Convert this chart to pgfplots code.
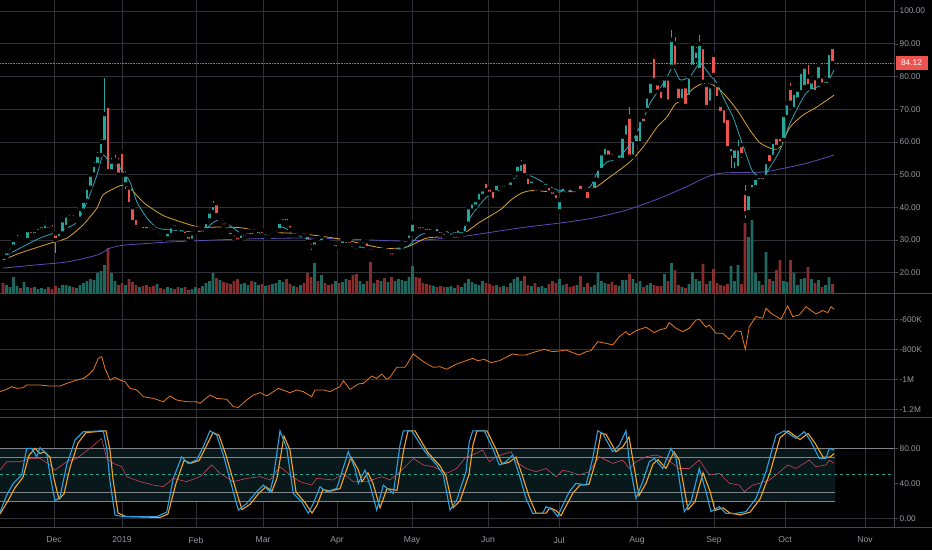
\documentclass[border=0pt]{standalone}
\usepackage{pgfplots}
\pgfplotsset{compat=1.18}
\usepackage{pgfplotstable}
\usepackage{fontspec}
\setmainfont{Liberation Sans}
\definecolor{upc}{RGB}{38,166,154}
\definecolor{dnc}{RGB}{239,83,80}
\definecolor{vup}{RGB}{30,104,96}
\definecolor{vdn}{RGB}{135,45,45}
\definecolor{grd}{RGB}{48,50,56}
\definecolor{sep}{RGB}{70,72,78}
\definecolor{lbl}{RGB}{150,153,160}
\definecolor{mafast}{RGB}{45,165,185}
\definecolor{mamid}{RGB}{215,165,50}
\definecolor{maslow}{RGB}{92,75,180}
\definecolor{obv}{RGB}{230,120,35}
\definecolor{kline}{RGB}{45,160,225}
\definecolor{dline}{RGB}{245,165,35}
\definecolor{rsi}{RGB}{200,70,95}
\definecolor{midl}{RGB}{40,160,140}
\definecolor{bandc}{RGB}{9,24,26}
\definecolor{bandl}{RGB}{130,132,138}

\pgfplotstableread{
i o h l c v
0 25.5 26 24.3 24.8 10
1 24.8 27 24.5 26.5 8
2 26.5 28.5 26 28 6
3 28 30.5 27.5 30 16
4 29.5 31.5 29 30.5 7
5 30.5 31 29.2 29.8 5
6 29.8 31.5 29.5 31 11
7 30 33.5 29.8 33 6
8 33 33.5 31 31.5 5
9 31.5 33.8 31 33 6
10 32.5 34.5 32 34 4
11 33 35 32.8 34.5 5
12 33 35.8 32.5 35 4
13 34.5 35 32.8 33.2 6
14 33.5 34.5 32.5 32.8 4
15 32 32.5 26 30 7
16 30.5 33 30 32.5 5
17 32 36.5 31.8 36 8
18 34 38 33.5 37.5 8
19 35.5 37.5 35 36.8 7
20 36.8 37.5 35.3 35.8 6
21 35.8 37.5 35.5 37 5
22 36.5 40 36 39.5 8
23 39 42.5 38.5 42 10
24 42 46.5 41.5 46 12
25 46 50.5 45.5 50 14
26 50 54 49.5 53 13
27 53 57 52.5 56 20
28 56 61 55.5 60 22
29 60 79.5 59.5 68.5 28
30 71 71.5 50.5 51 45
31 51 55 50.5 54 20
32 53.5 56 52.5 54.5 12
33 54 55 49.5 50 8
34 57 57.5 49.5 50 10
35 47 51 45.5 50 8
36 46 46.5 40.5 41 14
37 40 40.5 35 35.5 11
38 36.7 37 33.5 34 8
39 33.8 35 33.5 34.5 6
40 34.6 35 32.5 33 7
41 34.6 35 32.8 33 8
42 34.5 35 33 33.2 6
43 33.8 34.5 32.3 32.5 7
44 32.2 33.5 31.8 33 9
45 32.5 33 31 31.2 5
46 31.5 32 30 30.3 4
47 30.5 33 30 32.5 6
48 31.5 34.8 31.2 34.2 5
49 35 35.5 33.2 33.6 4
50 33.5 34 31.8 32.2 6
51 32 34 31.8 33.6 5
52 33.2 33.6 31.2 31.5 6
53 31.5 32 29.3 29.8 3
54 29.8 32.5 29.5 32 4
55 32.5 34 32 33.5 6
56 33.5 34 31.5 31.8 5
57 32 34 31.8 33.5 7
58 33 36 32.8 35.5 10
59 36 39.5 35.8 38.7 12
60 38.5 41.8 38 40.7 20
61 41.2 41.5 37.2 37.6 15
62 35.5 37 35 36.5 13
63 35.6 36 33.8 34.2 11
64 34.5 35 32.5 33 10
65 32.8 33.2 30.8 31.2 9
66 32 32.3 30 30.5 12
67 31.2 31.5 29.3 29.6 14
68 30 32.5 29.6 32 9
69 30.8 32.5 30.5 32.2 10
70 31.3 33.2 31 32.7 8
71 32.7 33 30.8 31.2 12
72 31.5 33 31.2 32.5 11
73 31.5 33.4 31.2 33 8
74 33 33.3 31 31.5 9
75 31 32.7 30.6 32.3 7
76 32 32.3 30.3 30.7 8
77 31.5 33 31.2 32.5 9
78 32 33.7 31.8 33.3 10
79 33 36 32.7 35.5 13
80 35.5 37.6 35.2 37 11
81 37 37.3 35 35.5 14
82 35 35.3 32.9 33.2 9
83 32.6 34 32.2 33.6 7
84 32.8 33.2 31.2 31.5 6
85 32 33.4 31.6 33 8
86 32.6 33 30.8 31.2 10
87 31.5 31.8 29 29.5 20
88 29.5 30 27 28 16
89 28 30.2 27.7 29.9 30
90 30.5 30.8 28.8 29.2 12
91 29.3 31.4 29 31 18
92 30 30.3 28.7 29 10
93 29.5 29.8 28 28.5 8
94 28.8 29.2 27.5 27.8 9
95 27.5 29.3 27.2 29 12
96 28.7 29 27.3 27.6 10
97 28.5 30.6 28.2 30.2 11
98 28.5 30.5 28.2 30 14
99 30 30.3 28.3 28.6 13
100 28.6 29 26.8 27.2 18
101 28 28.3 26.3 26.8 19
102 27 29 26.7 28.7 12
103 28.5 30.3 28.2 29.8 9
104 29.6 29.9 27.2 27.5 12
105 26.5 26.8 25 25.5 31
106 25.6 26.9 25.3 26.5 10
107 26.8 27.2 25.6 26 13
108 25.9 27.2 25.6 26.9 12
109 27.2 27.6 25.6 26 15
110 25.8 27 25.5 26.7 11
111 26.5 26.8 24.5 25 16
112 25.3 27 25 26.6 12
113 26.5 28.6 26.2 28.3 14
114 28 29.7 27.8 29.3 13
115 28.8 30.5 28.5 30.2 12
116 30 32.5 29.8 32 16
117 32 35.8 31.8 35.3 27
118 35 35.4 33.3 33.6 16
119 34.5 34.8 32.7 33 15
120 34.5 34.8 32.6 33 10
121 34 34.3 32.2 32.5 9
122 34 34.2 32.1 32.5 8
123 32.8 34.2 32.5 33.8 7
124 34 34.3 31.7 32 6
125 33 33.3 31.2 31.6 7
126 32.5 32.8 30.6 31 6
127 30.6 31.8 30 31.5 6
128 31 33 30.7 32.6 7
129 31.6 33.5 31.3 33 5
130 33.5 33.8 31.2 31.6 8
131 31.5 33.5 31.2 33 6
132 32 35.3 31.8 35 10
133 35 40.5 34.8 40 14
134 39 42 38.8 41.5 11
135 40.2 42.7 40 42.2 9
136 41.7 45.3 41.3 44.8 8
137 43.5 46 43.2 45.5 12
138 47.8 48.5 45 45.3 10
139 46 46.5 43.8 44.2 9
140 45.3 45.6 41.8 42.2 7
141 44.6 47.6 44.3 47.2 8
142 47.2 47.6 45.5 45.8 6
143 45.8 47.6 45.5 47.2 7
144 47.2 47.6 45.9 46.2 6
145 46.2 48.6 45.9 48.2 10
146 48 50 47.8 49.5 14
147 50.4 53.5 50 53 16
148 50.5 54.5 50.2 53.5 12
149 53.8 54.2 49.4 49.8 17
150 49.4 49.8 46 46.5 8
151 46.8 49 46.5 48.5 7
152 46 46.3 44 44.5 10
153 44.8 46.4 44.5 46 6
154 46 47.4 45.7 47 7
155 46.3 48.2 46 47.8 5
156 46.5 46.8 44 44.5 9
157 45.2 45.5 43 43.5 12
158 44.3 44.6 41.8 42.2 10
159 38.8 42.6 38.3 42.2 14
160 44.2 46.7 43.8 46.3 8
161 46.3 46.7 45 45.3 9
162 46 46.3 43.6 44 6
163 45.5 45.8 43.6 44 7
164 44.3 45.7 44 45.3 8
165 47.2 47.8 44.6 45 17
166 44.3 45.7 44 45.3 6
167 45.3 45.6 41.8 42.2 10
168 44.3 45.7 44 45.3 6
169 45.3 48.8 45 48.4 8
170 48.4 52.3 48 51.9 21
171 51.4 57 51 56.5 12
172 55.5 59 55 58.5 10
173 58 58.4 55 55.5 9
174 57 57.4 55 55.5 11
175 55.5 56 54 54.5 8
176 54.5 57 54 56.5 7
177 54.5 62 54 61.6 13
178 61.6 66.2 61.2 65.7 13
179 67.7 70.8 55 55.5 19
180 55.5 61 55 60.6 14
181 59.6 63 59.2 62.6 10
182 59.6 67.2 59.2 66.7 12
183 67.7 68 65.3 65.7 6
184 69.8 74.4 69.4 73.9 8
185 74.3 79 74 78.4 10
186 86.1 87 78.5 78.9 8
187 77.9 78.3 75 75.4 7
188 75.9 76.3 72.3 72.8 7
189 76 79.8 75.6 79.4 19
190 79.4 80 71.8 72.3 12
191 83 94.2 82.5 91.2 30
192 90.1 92 82.5 83 23
193 76.9 77.5 72.3 72.8 8
194 72.8 77.5 72.3 76.9 6
195 77 77.5 70.5 71 5
196 73.8 80.5 73.4 80 9
197 83 90.5 82.5 90 21
198 85 89 84 88 14
199 82 92.7 81.5 90 12
200 89 89.5 78 78.4 29
201 77.4 77.8 70.3 70.7 9
202 72 77.5 71.5 77 12
203 86.6 87.2 80 80.5 24
204 77.4 77.8 73 73.4 10
205 71.3 71.7 68.4 68.8 8
206 70.3 70.7 64.8 65.2 7
207 67.3 67.7 57.6 58.1 9
208 56.5 59 52 58.5 27
209 54.5 58.5 52 58 12
210 52 60.5 51.5 58 28
211 59 59.5 55 56 9
212 44.4 46.8 36.7 38.2 70
213 38.5 44.5 38 44 56
214 45.5 48 45 47.5 73
215 46.2 49.5 45.8 49 20
216 48 50 47.6 49.5 12
217 49.5 49.9 47.6 48 8
218 49.3 54.2 49 53.8 41
219 56.6 57 53 53.5 14
220 55.4 60.5 55 60 12
221 61.5 62 58 58.5 23
222 61.5 62 59 59.5 33
223 60.6 68.6 60.2 68.2 12
224 67.6 72.2 67.2 71.8 11
225 76.5 78 71.5 72 33
226 70 75.5 69.5 75 20
227 73 76.5 72.6 76 8
228 75.2 81.8 74.8 81.4 14
229 76.8 83.4 76.4 83 15
230 80 83.5 76.6 77 26
231 75.5 79 75 78.5 14
232 79.5 80 74.8 75.2 10
233 78.9 84 78.5 83.5 13
234 80 80.5 77 77.5 6
235 77.5 79.5 77 79 8
236 78.9 87.6 78.5 87.2 16
237 89 89.5 84 84.12 9
}\candles

\pgfplotsset{
  panel/.style={scale only axis, width=894pt, xmin=0, xmax=894, anchor=south west,
    axis line style={draw=none},
    xtick={54,122,196,263,337,412,488,559,637,714,785,865},
    xticklabels={}, xmajorgrids, ymajorgrids,
    grid style={grd, line width=0.7pt},
    tick align=outside, major tick length=3.5pt,
    xtick style={draw=none}, ytick style={draw=sep, line width=0.6pt},
    ytick pos=right, yticklabel pos=right,
    tick label style={font=\fontsize{8.3}{10}\selectfont, text=lbl, inner sep=2pt}},
  over/.style={scale only axis, width=894pt, xmin=0, xmax=894, anchor=south west, hide axis},
  upf/.style={restrict expr to domain={\thisrow{c}-\thisrow{o}}{0:1000}},
  dnf/.style={restrict expr to domain={\thisrow{c}-\thisrow{o}}{-1000:-0.00001}},
}

\begin{document}
\begin{tikzpicture}
\useasboundingbox (0,0) rectangle (932pt,550pt);
\fill[black] (0,0) rectangle (932pt,550pt);

% ---------- panel 1: grid and labels
\begin{axis}[panel, at={(0pt,257pt)}, height=293pt, ymin=13.79, ymax=103.4,
  ytick={20,30,40,50,60,70,80,90,100},
  yticklabels={20.00,30.00,40.00,50.00,60.00,70.00,80.00,90.00,100.00}]
\addplot[draw=none] coordinates {(0,50) (894,50)};
\end{axis}

% ---------- panel 1: volume
\begin{axis}[over, at={(0pt,257pt)}, height=293pt, ymin=0, ymax=293]
\addplot[ybar, bar width=2.9pt, bar shift=0pt, fill=vup, draw=none, upf]
  table[x expr=3+3.5*\thisrow{i}, y=v] {\candles};
\addplot[ybar, bar width=2.9pt, bar shift=0pt, fill=vdn, draw=none, dnf]
  table[x expr=3+3.5*\thisrow{i}, y=v] {\candles};
\end{axis}

% ---------- panel 1: candles and averages
\begin{axis}[over, at={(0pt,257pt)}, height=293pt, ymin=13.79, ymax=103.4]
\addplot[maslow, line width=0.8pt, smooth, tension=0.4] coordinates {
(3,21.4) (33,22.3) (67,23.3) (97,25.4) (110,27.5) (123,28.4) (150,29) (170,29.4)
(232,30.2) (298,30.6) (345,30.3) (407,29.7) (460,31) (520,33.7) (560,35.2) (593,36.7)
(627,39.2) (660,42.8) (690,46.8) (707,49.3) (723,50.5) (763,50.8) (780,51.7) (807,53.5) (834,56)};
\addplot[mamid, line width=0.8pt, smooth, tension=0.4] coordinates {
(3,23.9) (20,26) (50,29) (67,30.6) (83,34.6) (97,39.8) (103,43.8) (117,46.2) (123,46.8)
(130,45.9) (143,41.6) (157,38.6) (167,37) (198,34) (222,34) (242,33.7) (265,32.4) (298,32)
(325,31) (345,30) (383,27.5) (407,27.9) (427,30.6) (460,31.5) (480,35.5) (500,39.2)
(512,42.5) (522,44.4) (532,45.1) (557,44.7) (590,45.3) (610,49.3) (630,53.9) (643,58.4)
(657,64.5) (667,67.6) (675,71.5) (683,73) (692,76) (702,77.8) (713,77.4) (723,75)
(737,69.8) (750,63.6) (760,59.7) (773,57.8) (780,58.4) (790,64.5) (803,68.2) (817,70.7) (834,74.3)};
\addplot[only marks, mark=none, upf, error bars/.cd, y dir=both, y explicit, error mark=none,
  error bar style={upc, line width=0.9pt}]
  table[x expr=3+3.5*\thisrow{i}, y=c, y error plus expr=\thisrow{h}-\thisrow{c},
        y error minus expr=\thisrow{c}-\thisrow{l}] {\candles};
\addplot[only marks, mark=none, dnf, error bars/.cd, y dir=both, y explicit, error mark=none,
  error bar style={dnc, line width=0.9pt}]
  table[x expr=3+3.5*\thisrow{i}, y=c, y error plus expr=\thisrow{h}-\thisrow{c},
        y error minus expr=\thisrow{c}-\thisrow{l}] {\candles};
\addplot[only marks, mark=none, upf, error bars/.cd, y dir=both, y explicit, error mark=none,
  error bar style={upc, line width=2.8pt}]
  table[x expr=3+3.5*\thisrow{i}, y=o,
        y error plus expr={max(\thisrow{c}-\thisrow{o},0.3)},
        y error minus expr=0] {\candles};
\addplot[only marks, mark=none, dnf, error bars/.cd, y dir=both, y explicit, error mark=none,
  error bar style={dnc, line width=2.8pt}]
  table[x expr=3+3.5*\thisrow{i}, y=o,
        y error plus expr=0,
        y error minus expr={\thisrow{o}-\thisrow{c}}] {\candles};
\addplot[mafast, line width=0.8pt, smooth, tension=0.4] coordinates {
(3,24.8) (20,27.5) (40,30.6) (53,32) (67,33.7) (77,35.5) (87,41.6) (97,49.9) (103,56)
(110,53.6) (117,53.2) (123,50.8) (130,47.8) (137,41.6) (147,36.7) (157,33.7) (167,33.2)
(180,32.8) (198,32.4) (205,33) (212,35.1) (220,36.1) (232,34) (242,32) (262,32) (275,32.4)
(282,34) (292,32.4) (305,30.6) (322,29.4) (338,28.5) (360,27.9) (383,26.3) (407,27.9)
(420,31.5) (440,33) (453,32) (463,33) (473,38.2) (487,43.2) (500,45.3) (513,48.3) (520,50.5)
(533,49.3) (543,47.7) (557,45.3) (577,45.3) (590,46.2) (597,50.5) (607,53.9) (617,54.5)
(623,56.6) (633,60.6) (643,66.7) (650,71.8) (660,76.4) (667,79.8) (673,82.9) (680,79)
(690,80) (700,84) (710,80.4) (717,78) (723,73.7) (733,67.6) (740,61.5) (747,55.4)
(753,50.8) (763,49.3) (770,52.3) (780,57.5) (790,65.7) (800,71.8) (807,75.2) (817,76.8)
(827,78) (834,82)};
\addplot[dnc, densely dotted, line width=0.6pt] coordinates {(0,84.12) (894,84.12)};
\end{axis}

% ---------- panel 2
\begin{axis}[panel, at={(0pt,133pt)}, height=124pt, ymin=-1251, ymax=-425,
  ytick={-1200,-1000,-800,-600}, yticklabels={-1.2M,-1M,-800K,-600K}]
\addplot[obv, line width=0.8pt] coordinates {
(0,-1082) (6.7,-1067) (11.7,-1049) (16.7,-1060) (23.3,-1056) (26.7,-1038) (40,-1038)
(50,-1045) (60,-1045) (66.7,-1027) (76.7,-1005) (83.3,-994) (88.3,-971) (93.3,-938)
(98.3,-860) (101.7,-849) (105,-927) (110,-1005) (115,-987) (120,-1005) (125,-1016)
(130,-1060) (136.7,-1071) (143.3,-1116) (153.3,-1127) (163.3,-1149) (170,-1111)
(176.7,-1138) (186.7,-1149) (196.7,-1149) (200,-1160) (210,-1105) (216.7,-1127)
(226.7,-1133) (233.3,-1182) (238.3,-1187) (246.7,-1138) (253.3,-1105) (260,-1089)
(266.7,-1111) (278.3,-1060) (290,-1089) (296.7,-1071) (303.3,-1082) (311.7,-1116)
(315,-1071) (323.3,-1071) (330,-1082) (340,-1049) (343.3,-1009) (350,-1067) (358.3,-1031)
(363.3,-1027) (371.7,-978) (376.7,-994) (381.7,-965) (386.7,-1000) (390,-987) (396.7,-920)
(405,-920) (413.3,-831) (423.3,-882) (433.3,-920) (440,-916) (446.7,-933) (456.7,-898)
(466,-876) (472.7,-860) (477.7,-876) (484.3,-867) (491,-889) (499.3,-876) (512.7,-831)
(519.3,-838) (526,-838) (532.7,-822) (544.3,-800) (552.7,-816) (559.3,-811) (566,-805)
(572.7,-822) (579.3,-838) (586,-816) (591,-809) (597.7,-749) (606,-760) (612.7,-771)
(619.3,-716) (626,-682) (629.3,-705) (636,-676) (646,-653) (654.3,-689) (659.3,-671)
(666,-660) (669.3,-622) (676,-660) (682.7,-682) (689.3,-660) (696,-605) (699.3,-600)
(706,-653) (709.3,-638) (716,-693) (722.7,-693) (729.3,-733) (736,-676) (741,-682)
(745.3,-800) (749.3,-649) (756,-582) (762.7,-593) (766,-527) (771,-560) (781,-600)
(787.7,-511) (792.7,-582) (799.3,-571) (806,-516) (816,-565) (822.7,-542) (827.7,-556)
(831,-516) (834.3,-534)};
\end{axis}

% ---------- panel 3
\begin{axis}[panel, at={(0pt,22.3pt)}, height=110.7pt, ymin=-10.7, ymax=115.8,
  ymajorgrids=false,
  ytick={0,40,80}, yticklabels={0.00,40.00,80.00},
  xticklabels={Dec,2019,Feb,Mar,Apr,May,Jun,Jul,Aug,Sep,Oct,Nov},
  xticklabel style={yshift=-3.5pt, font=\fontsize{8.6}{10}\selectfont}]
\addplot[fill=bandc, draw=none] coordinates {(0,20) (835,20) (835,80) (0,80) (0,20)};
\addplot[grd, line width=0.7pt] coordinates {(0,0) (894,0)};
\addplot[bandl, line width=0.6pt] coordinates {(0,80) (894,80)};
\addplot[bandl, line width=0.6pt] coordinates {(0,70) (835,70)};
\addplot[bandl, line width=0.6pt] coordinates {(0,30) (835,30)};
\addplot[bandl, line width=0.6pt] coordinates {(0,20) (835,20)};
\addplot[midl, dashed, line width=0.7pt] coordinates {(0,50) (894,50)};
\addplot[rsi, line width=0.6pt] coordinates {
(0,55.2) (6.7,64.7) (20,64.7) (30,68.5) (40,68.5) (50,61) (55,55) (66.7,64.7) (76.7,68.5)
(90,80) (101.7,91.4) (106.7,68.5) (113.3,62.8) (121.7,59) (126.7,47.6) (140,41.9)
(153.3,38) (163.3,36.2) (173.3,45.7) (186.7,41.9) (200,47.6) (211.7,61) (220,51.4)
(233.3,41.9) (246.7,45.7) (260,47.6) (270,43.8) (280,59) (290,49.5) (300,41.9) (311.7,38)
(316.7,45.7) (333.3,43.8) (343.3,51.4) (353.3,41.9) (366.7,41.9) (381.7,47.6) (390,43.8)
(400,53.3) (413.3,68.5) (423.3,61) (433.3,59) (446.7,51.4) (456.7,57) (466,70) (472.7,72.4)
(482.7,78) (489.3,64.7) (496,70.4) (511,76.2) (516,64.7) (526,57) (536,53.3) (546,57)
(556,47.6) (562.7,55) (569.3,53.3) (579.3,49.5) (589.3,53.3) (599.3,70.4) (612.7,62.8)
(622.7,66.6) (629.3,57) (636,64.7) (646,70.4) (656,72.4) (666,68.5) (679.3,57) (689.3,57)
(699.3,66.6) (709.3,49.5) (719.3,51.4) (729.3,40) (739.3,38) (744.3,30.4) (752.7,38)
(759.3,40) (769.3,43.8) (776,49.5) (787.7,61) (796,57) (809.3,66.6) (816,59) (826,61)
(829.3,66.6) (834,62.8)};
\addplot[dline, line width=1.1pt] coordinates {
(0,5) (8,20) (15,35) (23,47) (29,72) (35,80) (40,74) (44,76) (50,70) (54,45) (59,22)
(64,28) (70,58) (78,86) (86,98) (106,100) (110,78) (113,45) (118,6) (126,2) (160,1)
(168,5) (176,40) (184,66) (191,63) (199,66) (206,82) (213,98) (219,95) (226,72) (236,32)
(242,10) (250,16) (259,29) (266,36) (272,31) (277,46) (284,94) (290,78) (296,30) (305,18)
(312,6) (317,15) (323,33) (330,31) (340,34) (351,70) (358,56) (362,42) (368,52) (373,40)
(380,12) (387,34) (397,32) (404,80) (408,100) (415,100) (428,75) (440,60) (446,48)
(453,12) (460,20) (469,50) (473,84) (477,100) (487,100) (496,79) (502,62) (509,64)
(516,70) (522,50) (529,25) (536,6) (546,6) (550,12) (556,9) (561,3) (566,14) (573,29)
(580,38) (589,39) (596,66) (601,97) (606,96) (616,76) (623,82) (629,93) (633,66) (639,26)
(646,40) (653,62) (658,67) (666,57) (674,76) (679,67) (688,10) (695,19) (703,52) (710,31)
(715,9) (723,12) (730,6) (740,4) (750,7) (760,22) (770,52) (780,92) (788,100) (800,90)
(808,97) (815,86) (823,70) (830,70) (834,74)};
\addplot[kline, line width=1.1pt] coordinates {
(0,7) (6.7,26.6) (13.3,40) (21.7,49.5) (26.7,80) (31.7,80) (36.7,70.4) (40,80.7) (46.7,74)
(50,49.5) (55,19.8) (60,24.7) (66.7,61) (75,89.5) (83.3,99) (103.3,100) (106.7,80) (110,42)
(115,3.8) (123.3,1.9) (140,2) (156.7,2) (166.7,7) (173.3,45.7) (181.7,70.4) (188.3,62.8)
(196.7,66.6) (203.3,82) (210,100) (216.7,95) (223.3,72.4) (233.3,30.4) (238.3,9.5)
(246.7,17) (256.7,30.4) (263.3,38) (270,30.4) (273.3,45.7) (280,100) (286.7,80)
(293.3,28.5) (301.7,19) (308.3,5.7) (313.3,17) (320,36) (326.7,30.4) (336.7,34.2)
(348.3,76.2) (355,57) (358.3,40) (365,55.2) (370,38) (376.7,9.5) (383.3,38) (393.3,28.5)
(400,83.8) (403.3,100) (411.7,100) (425,76.2) (436.7,61) (443.3,49.5) (450,9.5) (456.7,21)
(466,53.3) (469.3,87.6) (472.7,100) (484.3,100) (492.7,80) (499.3,61) (506,64.7)
(512.7,72.4) (519.3,49.5) (526,22.8) (532.7,5.7) (542.7,5.7) (546,13.3) (552.7,9.5)
(557.7,2) (562.7,15) (569.3,30.4) (576,40) (586,38) (592.7,68.5) (597.7,100) (602.7,97)
(612.7,76.2) (619.3,83.8) (626,100) (629.3,64.7) (636,22.8) (642.7,42) (649.3,64.7)
(654.3,68.5) (662.7,57) (671,80) (676,68.5) (684.3,7.6) (691,19) (699.3,57) (706,30.4)
(711,7.6) (719.3,13.3) (726,5.7) (736,5.7) (746,7.6) (756,22.8) (766,53.3) (776,95.2)
(784.3,100) (796,91.4) (804.3,99) (811,87.6) (819.3,68.5) (826,68.5) (829.3,80) (834,78)};
\end{axis}

% ---------- frame lines and price label
\draw[sep, line width=0.7pt] (0,257pt) -- (932pt,257pt);
\draw[sep, line width=0.7pt] (0,133pt) -- (932pt,133pt);
\draw[sep, line width=0.7pt] (0,22.3pt) -- (932pt,22.3pt);
\draw[sep, line width=0.7pt] (894pt,22.3pt) -- (894pt,550pt);
\node[fill=dnc, text=white, font=\fontsize{8.3}{10}\selectfont, inner sep=0pt,
  minimum width=32pt, minimum height=14pt] at (911.5pt,487pt) {84.12};
\end{tikzpicture}
\end{document}
